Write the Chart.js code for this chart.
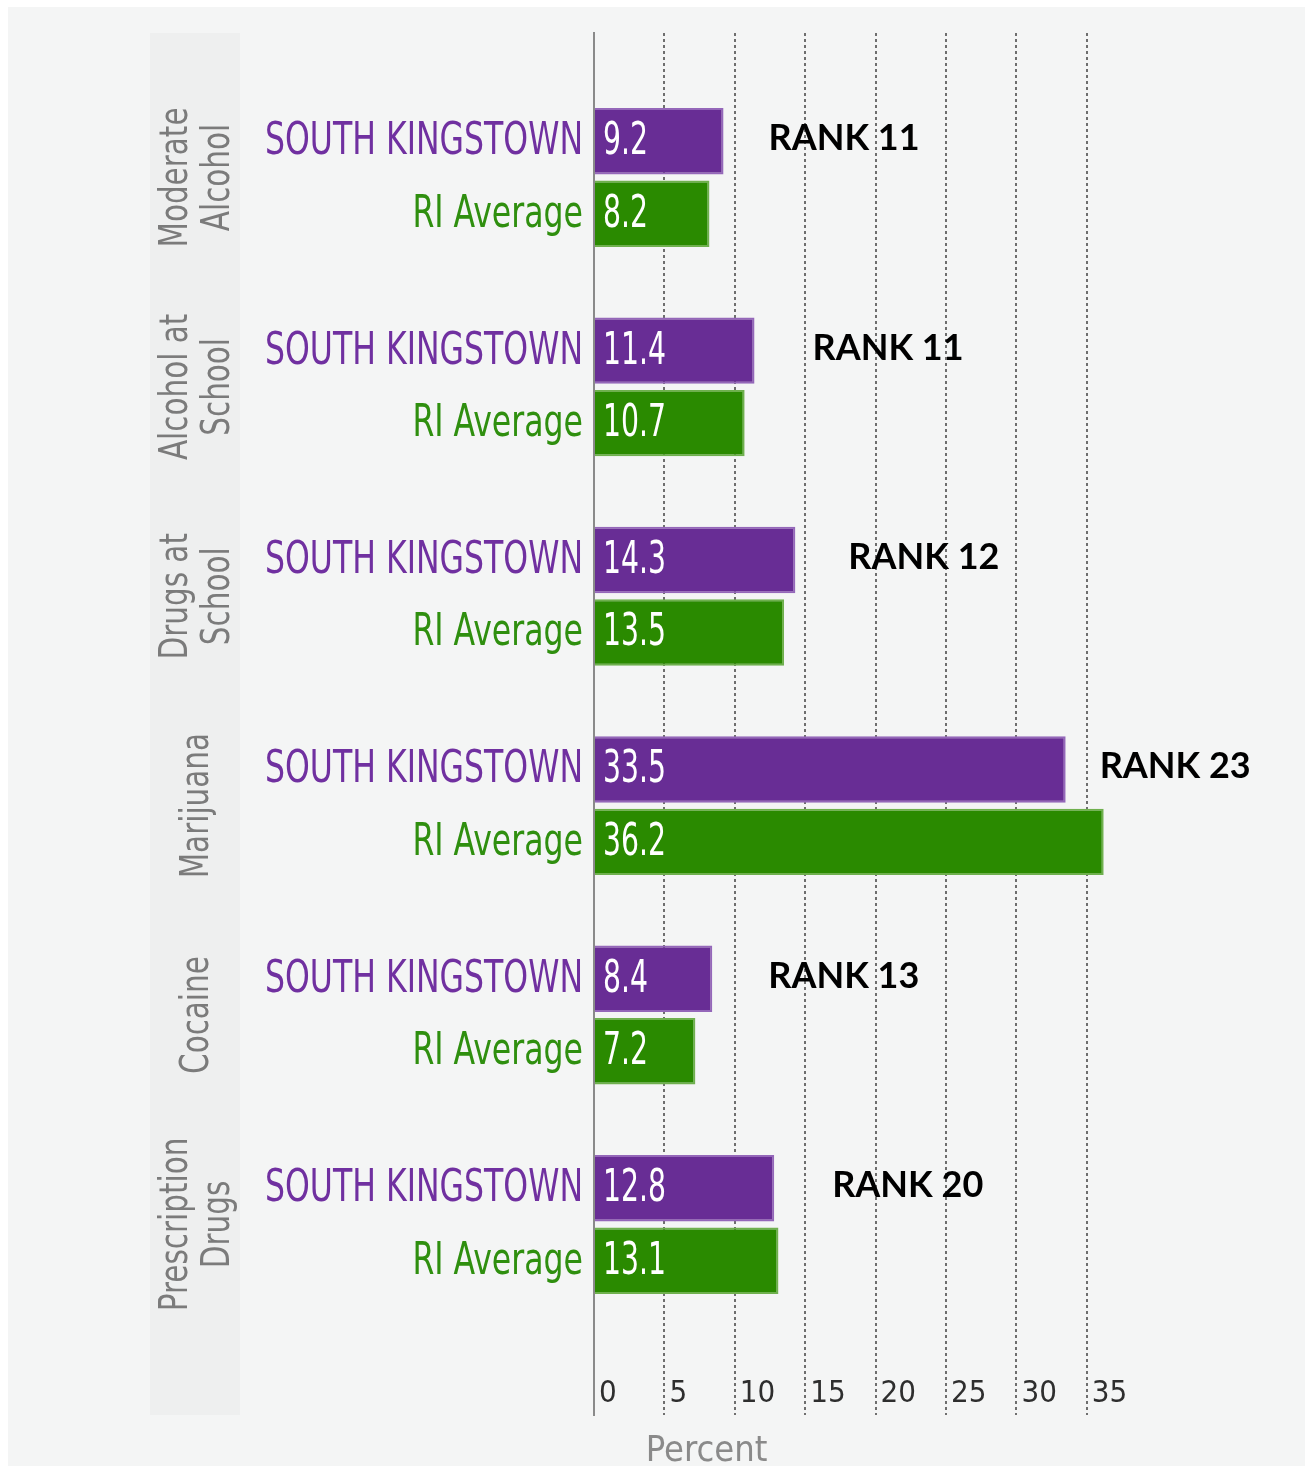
<!DOCTYPE html>
<html>
<head>
<meta charset="utf-8">
<title>South Kingstown vs RI Average</title>
<script src="https://cdn.jsdelivr.net/npm/chart.js@4.4.1/dist/chart.umd.min.js"></script>
<style>
  html, body { margin: 0; padding: 0; background: #ffffff; }
  #wrap { width: 1305px; height: 1473px; }
</style>
</head>
<body>
<div id="wrap"><canvas id="chart" width="1305" height="1473"></canvas></div>
<script>
// Data
const categories = [
    ['Moderate', 'Alcohol'],
    ['Alcohol at', 'School'],
    ['Drugs at', 'School'],
    ['Marijuana'],
    ['Cocaine'],
    ['Prescription', 'Drugs']
];
const seriesNames = ['SOUTH KINGSTOWN', 'RI Average'];
const southKingstown = [9.2, 11.4, 14.3, 33.5, 8.4, 12.8];
const riAverage = [8.2, 10.7, 13.5, 36.2, 7.2, 13.1];
const ranks = [11, 11, 12, 23, 13, 20];
const xTicks = [0, 5, 10, 15, 20, 25, 30, 35];
const axisTitle = 'Percent';

// Layout / style (not data)
const rankGap = [45, 58, 53, 34, 56, 58];
const NARROW = '"Liberation Sans Narrow", "DejaVu Sans Condensed", "Arial Narrow", sans-serif';
const BOLD = 'Lato, "Open Sans", sans-serif';
const purple = '#682d95';
const green = '#2a8a00';
const textColors = ['#7030a0', '#2f8f0f'];

function squishText(ctx, text, x, y, align, sx) {
    ctx.save();
    ctx.translate(x, y);
    ctx.scale(sx, 1);
    ctx.textAlign = align;
    ctx.fillText(text, 0, 0);
    ctx.restore();
}

const annotate = {
    id: 'annotate',
    beforeDraw(chart) {
        const { ctx, chartArea } = chart;
        ctx.save();
        ctx.fillStyle = '#f4f5f5';
        ctx.fillRect(8, 7, chart.width - 8, chart.height - 14);
        // grey band behind category labels
        ctx.fillStyle = '#eeefef';
        ctx.fillRect(150, chartArea.top, 90, chartArea.bottom - chartArea.top);
        ctx.restore();
    },
    afterDatasetsDraw(chart) {
        const { ctx, chartArea } = chart;
        const yScale = chart.scales.y;
        const xScale = chart.scales.x;
        ctx.save();

        // rotated category labels
        ctx.fillStyle = '#7b7b7b';
        ctx.font = '39px ' + NARROW;
        ctx.textAlign = 'center';
        ctx.textBaseline = 'alphabetic';
        const catScale = 140 / ctx.measureText('Moderate').width;
        categories.forEach((lines, i) => {
            const cy = yScale.getPixelForValue(i);
            lines.forEach((line, k) => {
                const bx = 208 + (k - (lines.length - 1) / 2) * 42;
                ctx.save();
                ctx.translate(bx, cy);
                ctx.rotate(-Math.PI / 2);
                ctx.scale(catScale, 1);
                ctx.fillText(line, 0, 0);
                ctx.restore();
            });
        });

        // series names and values beside / inside bars
        ctx.font = '44px ' + NARROW;
        const nameScale = 318 / ctx.measureText(seriesNames[0]).width;
        const valScale = 45 / ctx.measureText('9.2').width;
        chart.data.datasets.forEach((ds, di) => {
            const meta = chart.getDatasetMeta(di);
            meta.data.forEach((bar, i) => {
                ctx.fillStyle = textColors[di];
                squishText(ctx, seriesNames[di], bar.base - 12, bar.y + 13, 'right', nameScale);
                ctx.fillStyle = '#ffffff';
                squishText(ctx, ds.data[i].x.toFixed(1), bar.base + 8, bar.y + 13, 'left', valScale);
            });
        });

        // rank text next to the South Kingstown bar
        const skMeta = chart.getDatasetMeta(0);
        ctx.fillStyle = '#000000';
        ctx.font = 'bold 36px ' + BOLD;
        ctx.textAlign = 'left';
        skMeta.data.forEach((bar, i) => {
            ctx.fillText('RANK ' + ranks[i], bar.x + rankGap[i], bar.y + 9);
        });

        // axis title
        ctx.fillStyle = '#8a8a8a';
        ctx.font = '36px ' + NARROW;
        ctx.textAlign = 'center';
        ctx.fillText(axisTitle, xScale.getPixelForValue(8), chartArea.bottom + 46);

        ctx.restore();
    }
};

const ctx = document.getElementById('chart').getContext('2d');
new Chart(ctx, {
    type: 'bar',
    data: {
        datasets: [
            {
                label: seriesNames[0],
                data: southKingstown.map((v, i) => ({ x: v, y: i })),
                backgroundColor: purple,
                borderColor: '#9467b9',
                borderWidth: 2,
                borderSkipped: 'start'
            },
            {
                label: seriesNames[1],
                data: riAverage.map((v, i) => ({ x: v, y: i })),
                backgroundColor: green,
                borderColor: '#6fb04e',
                borderWidth: 2,
                borderSkipped: 'start'
            }
        ]
    },
    options: {
        indexAxis: 'y',
        responsive: false,
        animation: false,
        categoryPercentage: 0.692,
        barPercentage: 0.917,
        layout: { padding: { top: 33, right: 7, bottom: 0, left: 0 } },
        plugins: {
            legend: { display: false },
            tooltip: { enabled: false }
        },
        scales: {
            x: {
                type: 'linear',
                position: 'bottom',
                min: 0,
                max: 50,
                afterBuildTicks: scale => {
                    scale.ticks = xTicks.map(v => ({ value: v }));
                },
                afterFit: scale => { scale.height = 58; },
                grid: { color: '#6e6e6e', lineWidth: 2, drawTicks: false },
                border: { display: false, dash: [3, 3] },
                ticks: {
                    mirror: true,
                    padding: 2,
                    align: 'start',
                    labelOffset: 5,
                    maxRotation: 0,
                    autoSkip: false,
                    color: '#2e2e2e',
                    font: { family: NARROW, size: 31 }
                }
            },
            y: {
                type: 'linear',
                reverse: true,
                offset: false,
                min: -0.69,
                max: 5.91,
                afterBuildTicks: scale => {
                    scale.ticks = categories.map((c, i) => ({ value: i }));
                },
                afterFit: scale => { scale.width = 594; },
                grid: { display: false, offset: false },
                ticks: { display: false },
                border: { display: true, color: '#8a8a8a', width: 2 }
            }
        }
    },
    plugins: [annotate]
});
</script>
</body>
</html>
